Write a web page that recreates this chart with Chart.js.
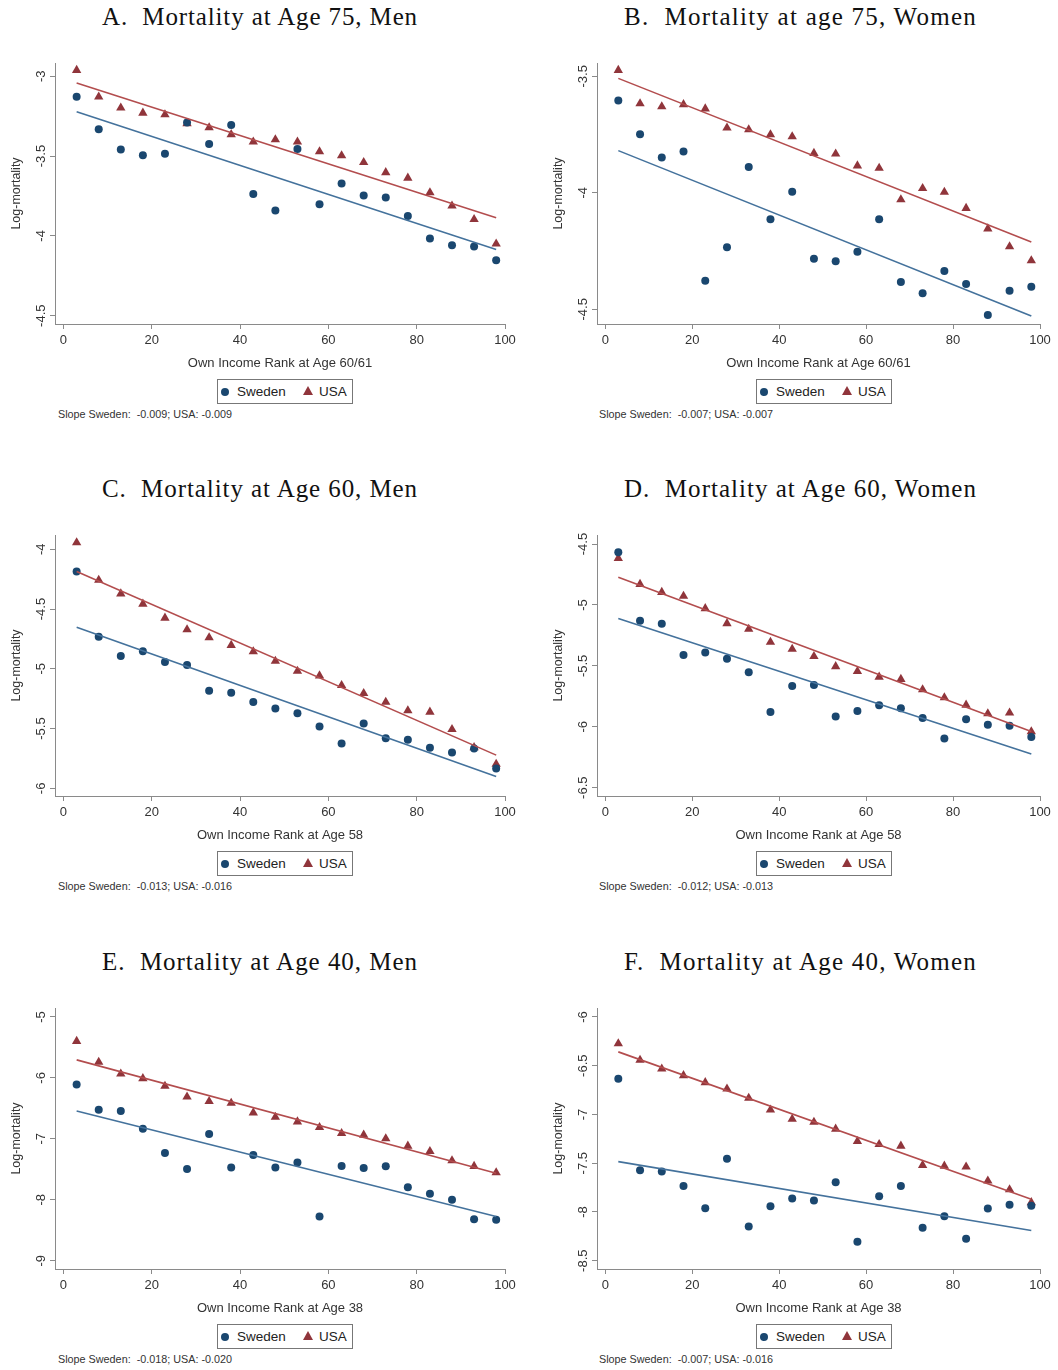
<!DOCTYPE html>
<html lang="en">
<head>
<meta charset="UTF-8">
<title>Mortality by own income rank, Sweden and USA</title>
<script src="https://cdn.jsdelivr.net/npm/chart.js@4.4.1/dist/chart.umd.min.js"></script>
<style>
    body {
        margin: 0;
        background: #fff;
    }
    #page {
        position: relative;
        width: 1058px;
        height: 1370px;
        background: #fff;
        overflow: hidden;
    }
    .title {
        position: absolute;
        font-family: "Liberation Serif", "DejaVu Serif", serif;
        font-size: 25px;
        line-height: 1;
        color: #111;
        white-space: pre;
    }
    .legend {
        position: absolute;
        width: 136px;
        height: 25px;
        box-sizing: border-box;
        border: 1px solid #777;
        font: 13.5px "Liberation Sans", Arial, sans-serif;
        color: #222;
    }
    .legend span {
        position: absolute;
    }
    .dot {
        width: 8px;
        height: 8px;
        border-radius: 50%;
        background: #1a476f;
        top: 8px;
        left: 3px;
    }
    .tri {
        width: 0;
        height: 0;
        border-left: 5px solid transparent;
        border-right: 5px solid transparent;
        border-bottom: 9px solid #90353b;
        top: 6px;
        left: 85px;
    }
    .note {
        position: absolute;
        font: 10.8px "Liberation Sans", Arial, sans-serif;
        color: #333;
        white-space: pre;
    }
</style>
</head>
<body>
<div id="page"></div>

<script>
    // income rank bins (x positions of the markers)
    const rank = [3, 8, 13, 18, 23, 28, 33, 38, 43, 48, 53, 58, 63, 68, 73, 78, 83, 88, 93, 98];
    const xTicks = [0, 20, 40, 60, 80, 100];
    // fitted lines are drawn between the first and last bin
    const fitX = [3, 98];

    const panelTitles = [
        'A.  Mortality at Age 75, Men',
        'B.  Mortality at age 75, Women',
        'C.  Mortality at Age 60, Men',
        'D.  Mortality at Age 60, Women',
        'E.  Mortality at Age 40, Men',
        'F.  Mortality at Age 40, Women'
    ];
    const xTitles = [
        'Own Income Rank at Age 60/61',
        'Own Income Rank at Age 60/61',
        'Own Income Rank at Age 58',
        'Own Income Rank at Age 58',
        'Own Income Rank at Age 38',
        'Own Income Rank at Age 38'
    ];
    const slopeNotes = [
        'Slope Sweden:  -0.009; USA: -0.009',
        'Slope Sweden:  -0.007; USA: -0.007',
        'Slope Sweden:  -0.013; USA: -0.016',
        'Slope Sweden:  -0.012; USA: -0.013',
        'Slope Sweden:  -0.018; USA: -0.020',
        'Slope Sweden:  -0.007; USA: -0.016'
    ];

    // A. age 75, men
    const yTicksA = [-3, -3.5, -4, -4.5];
    const yRangeA = [-4.552, -2.917];
    const swedenA = [-3.129, -3.332, -3.459, -3.495, -3.486, -3.290, -3.424, -3.305, -3.737, -3.841,
                     -3.455, -3.802, -3.672, -3.747, -3.760, -3.875, -4.017, -4.058, -4.067, -4.152];
    const usaA = [-2.962, -3.129, -3.198, -3.230, -3.240, -3.296, -3.322, -3.365, -3.411, -3.397,
                  -3.411, -3.472, -3.497, -3.539, -3.603, -3.637, -3.729, -3.812, -3.896, -4.050];
    const fitSwedenA = [-3.223, -4.086];
    const fitUsaA = [-3.042, -3.887];

    // B. age 75, women
    const yTicksB = [-3.5, -4, -4.5];
    const yRangeB = [-4.563, -3.443];
    const swedenB = [-3.604, -3.749, -3.849, -3.823, -4.377, -4.234, -3.889, -4.113, -3.996, -4.283,
                     -4.294, -4.253, -4.113, -4.383, -4.431, -4.336, -4.391, -4.524, -4.420, -4.403];
    const usaB = [-3.474, -3.617, -3.630, -3.621, -3.639, -3.721, -3.729, -3.750, -3.759, -3.830,
                  -3.833, -3.884, -3.894, -4.029, -3.981, -3.997, -4.066, -4.154, -4.231, -4.291];
    const fitSwedenB = [-3.819, -4.529];
    const fitUsaB = [-3.509, -4.211];

    // C. age 60, men
    const yTicksC = [-4, -4.5, -5, -5.5, -6];
    const yRangeC = [-6.064, -3.881];
    const swedenC = [-4.186, -4.733, -4.894, -4.853, -4.944, -4.969, -5.183, -5.200, -5.278, -5.333,
                     -5.372, -5.483, -5.625, -5.458, -5.581, -5.594, -5.661, -5.700, -5.667, -5.833];
    const usaC = [-3.944, -4.258, -4.372, -4.458, -4.575, -4.672, -4.739, -4.803, -4.856, -4.936,
                  -5.019, -5.058, -5.139, -5.206, -5.278, -5.350, -5.361, -5.506, -5.658, -5.797];
    const fitSwedenC = [-4.653, -5.900];
    const fitUsaC = [-4.186, -5.722];

    // D. age 60, women
    const yTicksD = [-4.5, -5, -5.5, -6, -6.5];
    const yRangeD = [-6.568, -4.426];
    const swedenD = [-4.568, -5.130, -5.155, -5.411, -5.390, -5.441, -5.553, -5.878, -5.665, -5.657,
                     -5.916, -5.870, -5.823, -5.848, -5.927, -6.096, -5.938, -5.984, -5.992, -6.083];
    const usaD = [-4.617, -4.830, -4.896, -4.928, -5.029, -5.152, -5.198, -5.305, -5.362, -5.422,
                  -5.505, -5.545, -5.591, -5.610, -5.695, -5.761, -5.821, -5.892, -5.886, -6.039];
    const fitSwedenD = [-5.111, -6.224];
    const fitUsaD = [-4.773, -6.039];

    // E. age 40, men
    const yTicksE = [-5, -6, -7, -8, -9];
    const yRangeE = [-9.136, -4.853];
    const swedenE = [-6.108, -6.523, -6.544, -6.834, -7.232, -7.494, -6.921, -7.472, -7.265, -7.472,
                     -7.390, -8.274, -7.445, -7.478, -7.450, -7.794, -7.903, -8.001, -8.318, -8.329];
    const usaE = [-5.398, -5.742, -5.933, -6.010, -6.135, -6.310, -6.386, -6.413, -6.572, -6.643,
                  -6.719, -6.812, -6.910, -6.937, -6.997, -7.117, -7.205, -7.357, -7.450, -7.554];
    const fitSwedenE = [-6.544, -8.274];
    const fitUsaE = [-5.704, -7.565];

    // F. age 40, women
    const yTicksF = [-6, -6.5, -7, -7.5, -8, -8.5];
    const yRangeF = [-8.585, -5.908];
    const swedenF = [-6.634, -7.572, -7.586, -7.733, -7.961, -7.453, -8.149, -7.941, -7.862, -7.883,
                     -7.695, -8.306, -7.838, -7.733, -8.162, -8.043, -8.275, -7.965, -7.927, -7.937];
    const usaF = [-6.273, -6.443, -6.532, -6.600, -6.672, -6.737, -6.832, -6.952, -7.047, -7.078,
                  -7.149, -7.276, -7.306, -7.323, -7.521, -7.528, -7.538, -7.681, -7.770, -7.903];
    const fitSwedenF = [-7.484, -8.190];
    const fitUsaF = [-6.358, -7.869];

    const panels = [
        { yTicks: yTicksA, yRange: yRangeA, sweden: swedenA, usa: usaA, fitSweden: fitSwedenA, fitUsa: fitUsaA },
        { yTicks: yTicksB, yRange: yRangeB, sweden: swedenB, usa: usaB, fitSweden: fitSwedenB, fitUsa: fitUsaB },
        { yTicks: yTicksC, yRange: yRangeC, sweden: swedenC, usa: usaC, fitSweden: fitSwedenC, fitUsa: fitUsaC },
        { yTicks: yTicksD, yRange: yRangeD, sweden: swedenD, usa: usaD, fitSweden: fitSwedenD, fitUsa: fitUsaD },
        { yTicks: yTicksE, yRange: yRangeE, sweden: swedenE, usa: usaE, fitSweden: fitSwedenE, fitUsa: fitUsaE },
        { yTicks: yTicksF, yRange: yRangeF, sweden: swedenF, usa: usaF, fitSweden: fitSwedenF, fitUsa: fitUsaF }
    ];

    // colours
    const NAVY = '#1a476f';
    const MAROON = '#90353b';
    const LINE_BLUE = '#44729c';
    const LINE_RED = '#b34d4e';
    const AXIS = '#8a8a8a';
    const TEXT = '#333';
    const SANS = '"Liberation Sans", Arial, sans-serif';

    // layout (pixels on the page)
    const colLeft = [0, 542];       // canvas left edge per column
    const colWidth = [530, 516];
    const plotRight = [505, 498];   // right edge of plot area inside canvas
    const rowPlotTop = [63, 535, 1008];
    const PAD_TOP = 20;
    const CANVAS_H = 334;

    // Stata-style vertical y tick labels
    const yTickLabels = {
        id: 'yTickLabels',
        afterDraw(chart) {
            const ys = chart.scales.y;
            const ctx = chart.ctx;
            ctx.save();
            ctx.font = '13px ' + SANS;
            ctx.fillStyle = TEXT;
            ctx.textAlign = 'center';
            ctx.textBaseline = 'middle';
            ys.ticks.forEach(t => {
                const py = ys.getPixelForValue(t.value);
                ctx.save();
                ctx.translate(chart.chartArea.left - 13.5, py);
                ctx.rotate(-Math.PI / 2);
                ctx.fillText(String(t.value), 0, 0);
                ctx.restore();
            });
            ctx.restore();
        }
    };

    const page = document.getElementById('page');

    function addDiv(cls, left, top, text) {
        const d = document.createElement('div');
        d.className = cls;
        d.style.left = left + 'px';
        d.style.top = top + 'px';
        d.textContent = text;
        page.appendChild(d);
        return d;
    }

    // titles get a little letter-spacing so they span the same width as in the original
    const titleLeft = [102, 624];
    const titleWidth = [316, 353];

    panels.forEach((p, i) => {
        const col = i % 2;
        const row = Math.floor(i / 2);
        const left = colLeft[col];
        const plotTop = rowPlotTop[row];
        const rowShift = plotTop - rowPlotTop[0];

        // title
        const t = addDiv('title', titleLeft[col], 4 + rowShift, panelTitles[i]);
        const w = t.getBoundingClientRect().width;
        t.style.letterSpacing = ((titleWidth[col] - w) / panelTitles[i].length) + 'px';

        // chart
        const canvas = document.createElement('canvas');
        canvas.width = colWidth[col];
        canvas.height = CANVAS_H;
        canvas.style.position = 'absolute';
        canvas.style.left = left + 'px';
        canvas.style.top = (plotTop - PAD_TOP) + 'px';
        page.appendChild(canvas);

        new Chart(canvas, {
            type: 'scatter',
            data: {
                datasets: [
                    {
                        label: 'Fitted Sweden',
                        data: fitX.map((x, k) => ({ x: x, y: p.fitSweden[k] })),
                        showLine: true,
                        borderColor: LINE_BLUE,
                        borderWidth: 1.6,
                        pointRadius: 0
                    },
                    {
                        label: 'Fitted USA',
                        data: fitX.map((x, k) => ({ x: x, y: p.fitUsa[k] })),
                        showLine: true,
                        borderColor: LINE_RED,
                        borderWidth: 1.6,
                        pointRadius: 0
                    },
                    {
                        label: 'Sweden',
                        data: rank.map((x, k) => ({ x: x, y: p.sweden[k] })),
                        pointStyle: 'circle',
                        pointRadius: 4,
                        backgroundColor: NAVY,
                        borderColor: NAVY,
                        borderWidth: 0
                    },
                    {
                        label: 'USA',
                        data: rank.map((x, k) => ({ x: x, y: p.usa[k] })),
                        pointStyle: 'triangle',
                        pointRadius: 5.4,
                        backgroundColor: MAROON,
                        borderColor: MAROON,
                        borderWidth: 0
                    }
                ]
            },
            options: {
                responsive: false,
                animation: false,
                events: [],
                layout: {
                    padding: { top: PAD_TOP, right: colWidth[col] - plotRight[col], bottom: 3, left: 0 }
                },
                plugins: {
                    legend: { display: false },
                    tooltip: { enabled: false }
                },
                scales: {
                    x: {
                        type: 'linear',
                        min: -1.9,
                        max: 100,
                        afterBuildTicks: s => { s.ticks = xTicks.map(v => ({ value: v })); },
                        afterFit: s => { s.height = 50; },
                        grid: { drawOnChartArea: false, drawTicks: true, tickLength: 5, color: AXIS },
                        border: { display: true, color: AXIS, width: 1 },
                        ticks: {
                            font: { family: SANS, size: 13 },
                            color: TEXT,
                            padding: 4,
                            maxRotation: 0,
                            autoSkip: false
                        },
                        title: {
                            display: true,
                            text: xTitles[i],
                            font: { family: SANS, size: 13 },
                            color: TEXT,
                            padding: { top: 0, bottom: 3 }
                        }
                    },
                    y: {
                        type: 'linear',
                        min: p.yRange[0],
                        max: p.yRange[1],
                        afterBuildTicks: s => { s.ticks = p.yTicks.map(v => ({ value: v })); },
                        afterFit: s => { s.width = 55; },
                        grid: { drawOnChartArea: false, drawTicks: true, tickLength: 5, color: AXIS },
                        border: { display: true, color: AXIS, width: 1 },
                        ticks: { display: false },
                        title: {
                            display: true,
                            text: 'Log-mortality',
                            font: { family: SANS, size: 12.5 },
                            color: TEXT,
                            padding: { top: 9.5, bottom: 0 }
                        }
                    }
                }
            },
            plugins: [yTickLabels]
        });

        // legend box
        const legLeft = col === 0 ? 217 : 756;
        const leg = addDiv('legend', legLeft, plotTop + 262 + 54, '');
        leg.innerHTML =
            '<span class="dot"></span><span style="left:19px;top:4px">Sweden</span>' +
            '<span class="tri"></span><span style="left:101px;top:4px">USA</span>';

        // slope note
        const noteLeft = col === 0 ? 58 : 599;
        addDiv('note', noteLeft, plotTop + 345, slopeNotes[i]);
    });
</script>
</body>
</html>
